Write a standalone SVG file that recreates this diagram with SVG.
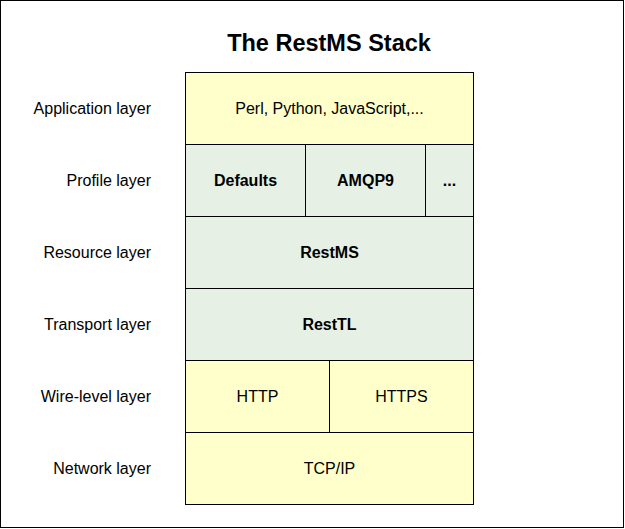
<svg xmlns="http://www.w3.org/2000/svg" width="625" height="529" viewBox="0 0 625 529">
<style>
.y{fill:#ffffcc;stroke:#000;stroke-width:1}
.g{fill:#e6f0e5;stroke:#000;stroke-width:1}
text{font-family:"Liberation Sans",Arial,sans-serif;font-size:16px;fill:#000}
.c{text-anchor:middle}
.b{font-weight:bold}
.l{text-anchor:end}
.t{font-size:23.5px;font-weight:bold;text-anchor:middle}
</style>
<rect x="0.5" y="0.5" width="623" height="527" fill="#fff" stroke="#000"/>
<text class="t" x="329" y="51">The RestMS Stack</text>
<g id="labels">
<text class="l" x="151" y="114">Application layer</text>
<text class="l" x="151" y="186">Profile layer</text>
<text class="l" x="151" y="258">Resource layer</text>
<text class="l" x="151" y="330">Transport layer</text>
<text class="l" x="151" y="402">Wire-level layer</text>
<text class="l" x="151" y="474">Network layer</text>
</g>
<g id="application"><rect class="y" x="185.5" y="72.5" width="288" height="72"/><text class="c" x="329.5" y="114">Perl, Python, JavaScript,...</text></g>
<g id="defaults"><rect class="g" x="185.5" y="144.5" width="120" height="72"/><text class="c b" x="245.5" y="186">Defaults</text></g>
<g id="amqp9"><rect class="g" x="305.5" y="144.5" width="120" height="72"/><text class="c b" x="365.5" y="186">AMQP9</text></g>
<g id="more"><rect class="g" x="425.5" y="144.5" width="48" height="72"/><text class="c b" x="449.5" y="186">...</text></g>
<g id="restms"><rect class="g" x="185.5" y="216.5" width="288" height="72"/><text class="c b" x="329.5" y="258">RestMS</text></g>
<g id="resttl"><rect class="g" x="185.5" y="288.5" width="288" height="72"/><text class="c b" x="329.5" y="330">RestTL</text></g>
<g id="http"><rect class="y" x="185.5" y="360.5" width="144" height="72"/><text class="c" x="257.5" y="402">HTTP</text></g>
<g id="https"><rect class="y" x="329.5" y="360.5" width="144" height="72"/><text class="c" x="401.5" y="402">HTTPS</text></g>
<g id="tcpip"><rect class="y" x="185.5" y="432.5" width="288" height="72"/><text class="c" x="329.5" y="474">TCP/IP</text></g>
<g id="connectors"></g>
</svg>
